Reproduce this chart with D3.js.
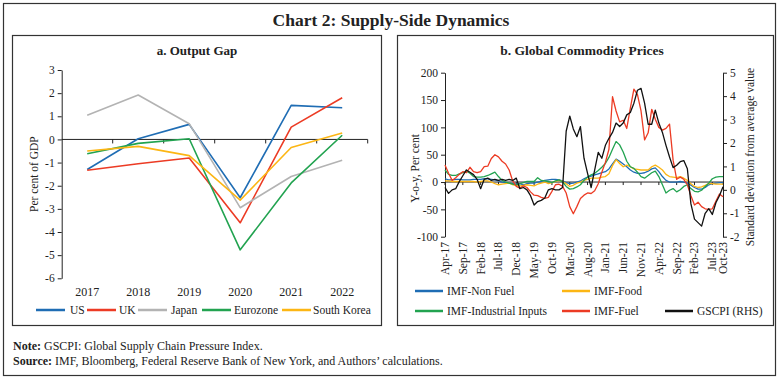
<!DOCTYPE html>
<html>
<head>
<meta charset="utf-8">
<script src="https://cdn.jsdelivr.net/npm/d3@7"></script>
<style>
  body { margin: 0; background: #fff; }
  svg { display: block; font-family: "Liberation Serif", "DejaVu Serif", serif; }
</style>
</head>
<body>
<svg id="chart" width="779" height="379"></svg>
<script>
// ---------- Panel a: Output gap ----------
const years = ["2017", "2018", "2019", "2020", "2021", "2022"];
const usGap = [-1.30, 0.03, 0.65, -2.52, 1.47, 1.37];
const ukGap = [-1.33, -1.05, -0.80, -3.60, 0.53, 1.80];
const japanGap = [1.05, 1.92, 0.68, -2.95, -1.60, -0.90];
const euroGap = [-0.62, -0.17, 0.03, -4.77, -1.88, 0.18];
const koreaGap = [-0.50, -0.30, -0.70, -2.62, -0.35, 0.28];
const gapTicks = [-6, -5, -4, -3, -2, -1, 0, 1, 2, 3];

// ---------- Panel b: Global commodity prices (Apr-17 .. Oct-23, monthly) ----------
const monthTickIndex = [0, 5, 10, 15, 20, 25, 30, 35, 40, 45, 50, 55, 60, 65, 70, 75, 78];
const monthTickLabels = ["Apr-17", "Sep-17", "Feb-18", "Jul-18", "Dec-18", "May-19", "Oct-19", "Mar-20",
  "Aug-20", "Jan-21", "Jun-21", "Nov-21", "Apr-22", "Sep-22", "Feb-23", "Jul-23", "Oct-23"];
const nonFuel = [6, 4, 4, 5, 5, 4, 4, 4, 5, 5, 5, 6, 6, 5, 4, 2, 0, -1, -2, -3,
  -4, -3, -5, -3, -2, -2, 0, 1, 3, 4, 5, 5, 4, 2, -1, -3, -2, 0, 2, 6,
  9, 11, 13, 15, 17, 19, 24, 33, 42, 38, 33, 28, 22, 18, 16, 16, 17, 20, 24, 26,
  19, 10, 3, 0, 0, 0, 1, 0, -2, -6, -10, -13, -13, -10, -5, -3, -2, -1, -1];
const food = [2, 2, 1, 1, 1, 1, 1, 1, 1, 0, 1, 2, 2, 0, -3, -5, -4, -3, -2, -5,
  -6, -7, -6, -5, -6, -7, -4, -2, 0, -3, -1, 1, 3, 1, -3, -8, -6, -2, 0, 3,
  5, 7, 7, 7, 9, 10, 15, 30, 41, 34, 28, 31, 28, 24, 23, 22, 22, 22, 28, 31,
  27, 22, 14, 10, 9, 8, 10, 7, 3, -3, -8, -10, -9, -6, -3, -3, -4, -4, -4];
const industrial = [22, 14, 12, 12, 15, 17, 20, 16, 10, 9, 9, 10, 12, 15, 18, 10, 3, 0, -2, -4,
  -5, -3, -1, 1, 1, 1, 8, 3, 2, 1, -1, 2, 4, 0, -8, -13, -12, -9, -5, 3,
  9, 13, 16, 21, 27, 34, 45, 60, 74, 68, 55, 38, 28, 25, 18, 10, 7, 12, 17, 20,
  10, -5, -20, -15, -12, -18, -14, -8, -5, -12, -17, -18, -15, -8, -2, 6, 9, 10, 10];
const fuel = [31, 16, 3, 8, 14, 19, 17, 27, 19, 17, 19, 28, 29, 43, 50, 46, 38, 33, 22, 2,
  -8, -11, -7, -10, -18, -24, -25, -28, -30, -28, -17, -5, -4, -8, -20, -45, -58, -45, -30, -24,
  -20, -21, -16, -3, 18, 36, 60, 156, 130, 110, 113, 98, 135, 170, 160, 130, 77, 90, 133, 115,
  100, 95, 98, 106, 40, 5, 9, 5, -5, -25, -42, -37, -45, -49, -50, -49, -35, -22, -27];
const gscpi = [0.10, -0.15, 0.00, 0.05, 0.35, 0.60, 0.85, 0.75, 0.65, 0.45, 0.05, 0.45, 0.50, 0.40, 0.45, 0.40, 0.45, 0.40, 0.45, 0.40,
  0.50, 0.05, 0.10, 0.00, -0.25, -0.65, -0.50, -0.45, -0.35, 0.00, 0.05, 0.00, 0.00, 0.10, 2.50, 3.15, 2.60, 2.27, 2.70, 1.35,
  0.70, 0.10, 0.85, 1.60, 1.35, 1.90, 2.20, 2.45, 2.85, 2.70, 2.85, 3.20, 3.30, 3.70, 4.25, 4.33, 3.70, 2.80, 2.80, 3.40,
  2.85, 2.45, 1.90, 1.40, 0.95, 1.05, 1.20, 1.25, 0.90, -0.60, -1.25, -1.40, -1.55, -1.00, -0.80, -1.05, -0.55, -0.25, 0.13];
const leftTicksB = [-100, -50, 0, 50, 100, 150, 200];
const rightTicksB = [-2, -1, 0, 1, 2, 3, 4, 5];

const C = { blue: "#1f6db4", red: "#ec3b24", gray: "#b3b3b3", green: "#22a350", orange: "#fcb614", black: "#111111" };

const svg = d3.select("#chart");

// frames
svg.append("rect").attr("x", 3.5).attr("y", 3.5).attr("width", 772).attr("height", 372)
  .attr("fill", "none").attr("stroke", "#333").attr("stroke-width", 1.2);
svg.append("rect").attr("x", 12.5).attr("y", 35.5).attr("width", 369).attr("height", 290)
  .attr("fill", "none").attr("stroke", "#333").attr("stroke-width", 1.2);
svg.append("rect").attr("x", 397.5).attr("y", 35.5).attr("width", 376).attr("height", 290)
  .attr("fill", "none").attr("stroke", "#333").attr("stroke-width", 1.2);

svg.append("text").attr("x", 391).attr("y", 26).attr("text-anchor", "middle")
  .attr("font-size", 17.5).attr("font-weight", "bold").attr("fill", "#222")
  .text("Chart 2: Supply-Side Dynamics");

// notes
const notes = svg.append("g").attr("font-size", 12).attr("fill", "#222");
const n1 = notes.append("text").attr("x", 13).attr("y", 350);
n1.append("tspan").attr("font-weight", "bold").text("Note: ");
n1.append("tspan").text("GSCPI: Global Supply Chain Pressure Index.");
const n2 = notes.append("text").attr("x", 13).attr("y", 365);
n2.append("tspan").attr("font-weight", "bold").text("Source: ");
n2.append("tspan").text("IMF, Bloomberg, Federal Reserve Bank of New York, and Authors\u2019 calculations.");

// ---------- Panel a ----------
const ga = svg.append("g");
ga.append("text").attr("x", 197).attr("y", 55).attr("text-anchor", "middle")
  .attr("font-size", 13).attr("font-weight", "bold").attr("fill", "#222").text("a. Output Gap");

const xa = d3.scaleBand().domain(years).range([61.7, 367.7]).padding(0);
const ya = d3.scaleLinear().domain([-6, 3]).range([278.3, 70]);

const axA = ga.append("g").attr("transform", "translate(61.7,0)")
  .call(d3.axisLeft(ya).tickValues(gapTicks).tickSize(4).tickSizeOuter(0).tickFormat(d => String(d)));
axA.selectAll("text").attr("font-size", 11.5).attr("fill", "#222").attr("font-family", "Liberation Serif");
axA.selectAll("line,path").attr("stroke", "#222");

// zero axis with downward ticks at category boundaries
ga.append("line").attr("x1", xa.range()[0]).attr("x2", xa.range()[1])
  .attr("y1", ya(0)).attr("y2", ya(0)).attr("stroke", "#222").attr("stroke-width", 1);
years.forEach(y => {
  const xb = xa(y) + xa.bandwidth();
  ga.append("line").attr("x1", xb).attr("x2", xb).attr("y1", ya(0)).attr("y2", ya(0) + 4).attr("stroke", "#222");
  ga.append("text").attr("x", xa(y) + xa.bandwidth() / 2).attr("y", 296).attr("text-anchor", "middle")
    .attr("font-size", 12).attr("fill", "#222").text(y);
});

ga.append("text").attr("transform", `translate(38,${ya(-1.5)}) rotate(-90)`).attr("text-anchor", "middle")
  .attr("font-size", 11.5).attr("fill", "#222").text("Per cent of GDP");

const seriesA = [
  { name: "US", vals: usGap, color: C.blue },
  { name: "UK", vals: ukGap, color: C.red },
  { name: "Japan", vals: japanGap, color: C.gray },
  { name: "Eurozone", vals: euroGap, color: C.green },
  { name: "South Korea", vals: koreaGap, color: C.orange }
];
const lineA = d3.line().x((d, i) => xa(years[i]) + xa.bandwidth() / 2).y(d => ya(d));
seriesA.forEach(s => {
  ga.append("path").datum(s.vals).attr("d", lineA).attr("fill", "none")
    .attr("stroke", s.color).attr("stroke-width", 1.6).attr("stroke-linejoin", "round");
});
const legA = [[36, 70], [87, 119], [138, 171], [202, 234], [282, 313]];
seriesA.forEach((s, i) => {
  ga.append("line").attr("x1", legA[i][0]).attr("x2", legA[i][0] + 29).attr("y1", 310).attr("y2", 310)
    .attr("stroke", s.color).attr("stroke-width", 2.5);
  ga.append("text").attr("x", legA[i][1]).attr("y", 314).attr("font-size", 11.5).attr("fill", "#222").text(s.name);
});

// ---------- Panel b ----------
const gb = svg.append("g");
gb.append("text").attr("x", 582).attr("y", 55).attr("text-anchor", "middle")
  .attr("font-size", 13.5).attr("font-weight", "bold").attr("fill", "#222").text("b. Global Commodity Prices");

const xb = d3.scalePoint().domain(d3.range(gscpi.length)).range([445, 723]);
const yl = d3.scaleLinear().domain([-100, 200]).range([236.7, 72.7]);
const yr = d3.scaleLinear().domain([-2, 5]).range([236.7, 72.7]);

const axL = gb.append("g").attr("transform", "translate(445,0)")
  .call(d3.axisLeft(yl).tickValues(leftTicksB).tickSize(4).tickSizeOuter(0).tickFormat(d => String(d)));
const axR = gb.append("g").attr("transform", "translate(723,0)")
  .call(d3.axisRight(yr).tickValues(rightTicksB).tickSize(4).tickSizeOuter(0).tickFormat(d => String(d)));
[axL, axR].forEach(a => {
  a.selectAll("text").attr("font-size", 11.5).attr("fill", "#222").attr("font-family", "Liberation Serif");
  a.selectAll("line,path").attr("stroke", "#222");
});

gb.append("line").attr("x1", 445).attr("x2", 723).attr("y1", yl(0)).attr("y2", yl(0)).attr("stroke", "#222");
monthTickIndex.forEach((m, i) => {
  const x = xb(m);
  gb.append("line").attr("x1", x).attr("x2", x).attr("y1", yl(0)).attr("y2", yl(0) + 3).attr("stroke", "#222");
  gb.append("text").attr("transform", `translate(${x + 4},242) rotate(-90)`).attr("text-anchor", "end")
    .attr("font-size", 11.5).attr("fill", "#222").text(monthTickLabels[i]);
});

gb.append("text").attr("transform", `translate(419,${yl(25)}) rotate(-90)`).attr("text-anchor", "middle")
  .attr("font-size", 11.5).attr("fill", "#222").text("Y-o-y, Per cent");
gb.append("text").attr("transform", `translate(754,${yr(1.4)}) rotate(-90)`).attr("text-anchor", "middle")
  .attr("font-size", 11.5).attr("fill", "#222").text("Standard deviation from average value");

const lineL = d3.line().x((d, i) => xb(i)).y(d => yl(d));
const lineR = d3.line().x((d, i) => xb(i)).y(d => yr(d));
const seriesB = [
  { name: "IMF-Non Fuel", vals: nonFuel, color: C.blue, gen: lineL, lx: 415, ly: 291 },
  { name: "IMF-Food", vals: food, color: C.orange, gen: lineL, lx: 562, ly: 291 },
  { name: "IMF-Industrial Inputs", vals: industrial, color: C.green, gen: lineL, lx: 415, ly: 311 },
  { name: "IMF-Fuel", vals: fuel, color: C.red, gen: lineL, lx: 562, ly: 311 },
  { name: "GSCPI (RHS)", vals: gscpi, color: C.black, gen: lineR, lx: 665, ly: 311 }
];
seriesB.forEach(s => {
  gb.append("path").datum(s.vals).attr("d", s.gen).attr("fill", "none")
    .attr("stroke", s.color).attr("stroke-width", 1.3).attr("stroke-linejoin", "round");
});
seriesB.forEach(s => {
  gb.append("line").attr("x1", s.lx).attr("x2", s.lx + 28).attr("y1", s.ly).attr("y2", s.ly)
    .attr("stroke", s.color).attr("stroke-width", 2.5);
  gb.append("text").attr("x", s.lx + 32).attr("y", s.ly + 4).attr("font-size", 11.5).attr("fill", "#222").text(s.name);
});
</script>
</body>
</html>
